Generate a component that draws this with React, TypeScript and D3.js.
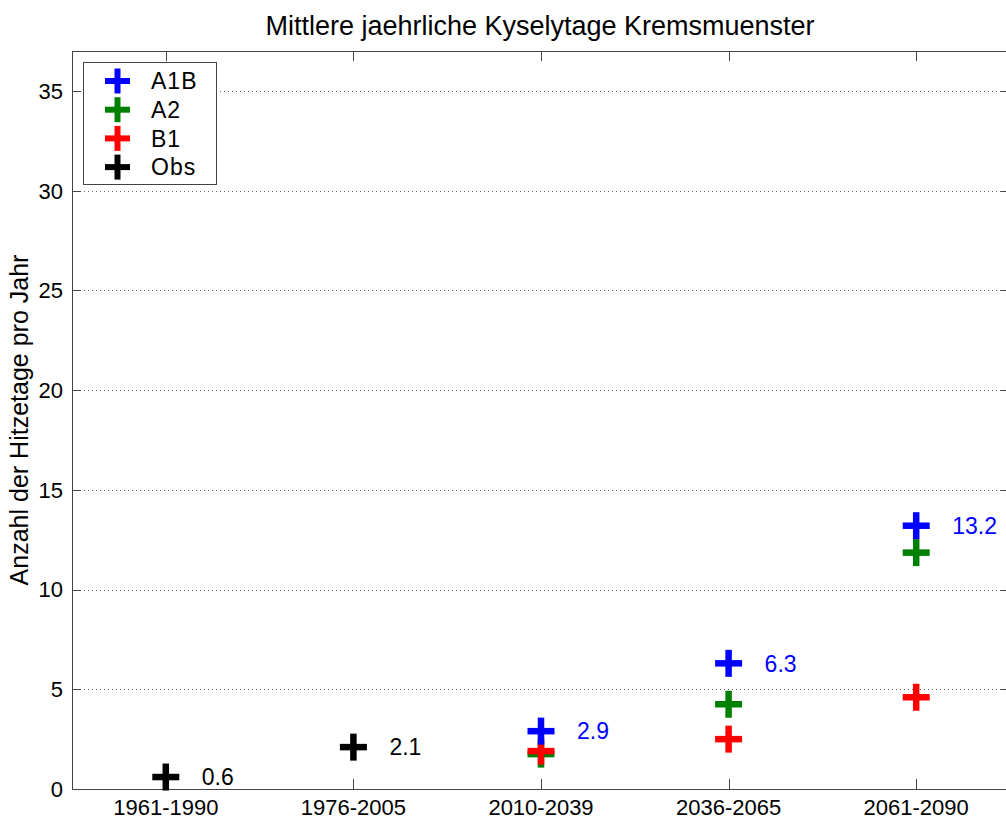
import React from "react";
import * as d3 from "d3";

const categories = ["1961-1990", "1976-2005", "2010-2039", "2036-2065", "2061-2090"];
const obsValues: [number, number][] = [[1, 0.6], [2, 2.1]];
const a1bValues: [number, number][] = [[3, 2.9], [4, 6.3], [5, 13.2]];
const a2Values: [number, number][] = [[3, 1.75], [4, 4.25], [5, 11.85]];
const b1Values: [number, number][] = [[3, 1.9], [4, 2.5], [5, 4.6]];
const obsLabels: [number, number, string][] = [[1, 0.6, "0.6"], [2, 2.1, "2.1"]];
const a1bLabels: [number, number, string][] = [[3, 2.9, "2.9"], [4, 6.3, "6.3"], [5, 13.2, "13.2"]];
const yTicks = [0, 5, 10, 15, 20, 25, 30, 35];
const legendItems = [
  { name: "A1B", color: "#0000ff" },
  { name: "A2", color: "#008000" },
  { name: "B1", color: "#ff0000" },
  { name: "Obs", color: "#000000" },
];

const W = 1006, H = 821;
const m = { left: 72, top: 51, right: 1010, bottom: 789 };
const FONT = "'Liberation Sans', Arial, Helvetica, sans-serif";

function Plus({ x, y, color, size = 13.5, sw = 6.5 }: { x: number; y: number; color: string; size?: number; sw?: number }) {
  return (
    <g>
      <line x1={x - size} x2={x + size} y1={y} y2={y} stroke={color} strokeWidth={sw} />
      <line x1={x} x2={x} y1={y - size} y2={y + size} stroke={color} strokeWidth={sw} />
    </g>
  );
}

export default function App() {
  const x = d3.scaleLinear().domain([0.5, 5.5]).range([m.left, m.right]);
  const y = d3.scaleLinear().domain([0, 37]).range([m.bottom, m.top]);
  const axisColor = "#444";
  const series = [
    { vals: a1bValues, color: "#0000ff" },
    { vals: a2Values, color: "#008000" },
    { vals: b1Values, color: "#ff0000" },
    { vals: obsValues, color: "#000000" },
  ];
  const drawOrder = [series[3], series[1], series[2], series[0]];
  return (
    <svg width={W} height={H} style={{ position: "absolute", left: 0, top: 0, background: "#fff" }} fontFamily={FONT}>
      <rect x={0} y={0} width={W} height={H} fill="#fff" />
      <text x={540} y={35} textAnchor="middle" fontSize={27} fill="#000">Mittlere jaehrliche Kyselytage Kremsmuenster</text>
      {/* grid */}
      {yTicks.filter((t) => t > 0).map((t) => (
        <line key={"g" + t} x1={m.left} x2={m.right} y1={Math.round(y(t)) + 0.5} y2={Math.round(y(t)) + 0.5} stroke="#666" strokeWidth={1} strokeDasharray="1,3" />
      ))}
      {/* axes box */}
      <line x1={m.left + 0.5} x2={m.left + 0.5} y1={m.top} y2={m.bottom} stroke={axisColor} />
      <line x1={m.left} x2={m.right} y1={m.top + 0.5} y2={m.top + 0.5} stroke={axisColor} />
      <line x1={m.left} x2={m.right} y1={m.bottom + 0.5} y2={m.bottom + 0.5} stroke={axisColor} />
      <line x1={m.right - 0.5} x2={m.right - 0.5} y1={m.top} y2={m.bottom} stroke={axisColor} />
      {/* y ticks */}
      {yTicks.map((t) => (
        <g key={"y" + t}>
          <line x1={m.left} x2={m.left + 9} y1={Math.round(y(t)) + 0.5} y2={Math.round(y(t)) + 0.5} stroke={axisColor} />
          <line x1={m.right - 9} x2={m.right} y1={Math.round(y(t)) + 0.5} y2={Math.round(y(t)) + 0.5} stroke={axisColor} />
          <text x={m.left - 9} y={y(t)} dy="0.36em" textAnchor="end" fontSize={22} fill="#000">{t}</text>
        </g>
      ))}
      {/* x ticks */}
      {categories.map((c, i) => (
        <g key={c}>
          <line x1={Math.round(x(i + 1)) + 0.5} x2={Math.round(x(i + 1)) + 0.5} y1={m.bottom} y2={m.bottom - 10} stroke={axisColor} />
          <line x1={Math.round(x(i + 1)) + 0.5} x2={Math.round(x(i + 1)) + 0.5} y1={m.top} y2={m.top + 10} stroke={axisColor} />
          <text x={x(i + 1)} y={815} textAnchor="middle" fontSize={22} fill="#000">{c}</text>
        </g>
      ))}
      <text transform={`translate(28,${(m.top + m.bottom) / 2}) rotate(-90)`} textAnchor="middle" fontSize={25} fill="#000">Anzahl der Hitzetage pro Jahr</text>
      {/* markers */}
      {drawOrder.map((s, si) => (
        <g key={"s" + si}>
          {s.vals.map(([cx, v], k) => (
            <Plus key={k} x={x(cx)} y={y(v)} color={s.color} />
          ))}
        </g>
      ))}
      {/* labels */}
      {obsLabels.map(([cx, v, l]) => (
        <text key={l} x={x(cx) + 36} y={y(v)} dy="0.36em" fontSize={23} fill="#000">{l}</text>
      ))}
      {a1bLabels.map(([cx, v, l]) => (
        <text key={l} x={x(cx) + 36} y={y(v)} dy="0.36em" fontSize={23} fill="#0000ff">{l}</text>
      ))}
      {/* legend */}
      <rect x={83.5} y={62.5} width={133} height={122} fill="#fff" stroke={axisColor} />
      {legendItems.map((it, i) => (
        <g key={it.name}>
          <Plus x={117.5} y={81 + i * 28.7} color={it.color} size={12.5} sw={6} />
          <text x={151} y={81 + i * 28.7} dy="0.36em" fontSize={23} letterSpacing={1} fill="#000">{it.name}</text>
        </g>
      ))}
    </svg>
  );
}
